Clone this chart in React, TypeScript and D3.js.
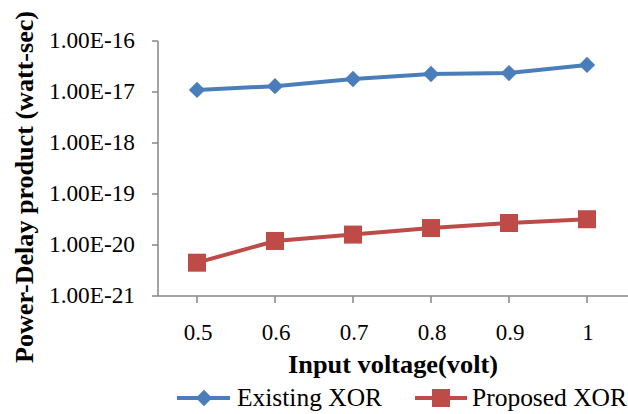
import React from 'react'
import * as d3 from 'd3'

// input voltage categories and the two series (watt-sec)
const voltages = ['0.5', '0.6', '0.7', '0.8', '0.9', '1']
const existingXor = [1.1e-17, 1.3e-17, 1.8e-17, 2.25e-17, 2.35e-17, 3.4e-17]
const proposedXor = [4.5e-21, 1.2e-20, 1.6e-20, 2.15e-20, 2.7e-20, 3.2e-20]
const yTicks = [1e-21, 1e-20, 1e-19, 1e-18, 1e-17, 1e-16]
const seriesNames = ['Existing XOR', 'Proposed XOR']

const W = 628
const H = 414
const left = 158
const right = 626
const top = 41
const bottom = 296
const FONT = 'Liberation Serif, serif'
const BLUE = '#4A7EBB'
const RED = '#BE4B48'
const AXIS = '#868686'

const App = () => {
  const x = d3.scalePoint<string>().domain(voltages).range([left, right]).padding(0.5)
  const y = d3.scaleLog().domain([1e-21, 1e-16]).range([bottom, top])

  const fmt = (v: number) => '1.00E' + Math.round(Math.log10(v))

  const mkLine = d3
    .line<number>()
    .x((_, i) => x(voltages[i]) as number)
    .y((v) => y(v))

  const diamond = d3.symbol().type(d3.symbolDiamond2).size(170)

  return (
    <svg width={W} height={H} style={{ position: 'absolute', left: 0, top: 0 }} fontFamily={FONT}>
      <rect width={W} height={H} fill="#fff" />

      {/* axes */}
      <line x1={left} x2={left} y1={top} y2={bottom} stroke={AXIS} strokeWidth={1.5} />
      <line x1={left} x2={right + 2} y1={bottom} y2={bottom} stroke={AXIS} strokeWidth={1.5} />
      {yTicks.map((t) => (
        <g key={t}>
          <line x1={left - 6} x2={left} y1={y(t)} y2={y(t)} stroke={AXIS} strokeWidth={1.5} />
          <text x={left - 23} y={y(t) + 7} textAnchor="end" fontSize={23} textLength={86} lengthAdjust="spacingAndGlyphs">
            {fmt(t)}
          </text>
        </g>
      ))}
      {voltages.map((v) => (
        <g key={v}>
          <line x1={x(v)} x2={x(v)} y1={bottom} y2={bottom + 7} stroke={AXIS} strokeWidth={1.5} />
          <text x={(x(v) as number) + 1} y={340} textAnchor="middle" fontSize={23}>
            {v}
          </text>
        </g>
      ))}

      {/* titles */}
      <text x={393} y={373} textAnchor="middle" fontSize={26} fontWeight="bold" textLength={210} lengthAdjust="spacingAndGlyphs">
        Input voltage(volt)
      </text>
      <text
        transform={`translate(33,187) rotate(-90)`}
        textAnchor="middle"
        fontSize={26}
        fontWeight="bold"
        textLength={352}
        lengthAdjust="spacingAndGlyphs"
      >
        Power-Delay product (watt-sec)
      </text>

      {/* series */}
      <path d={mkLine(existingXor) ?? ''} fill="none" stroke={BLUE} strokeWidth={4} />
      {existingXor.map((v, i) => (
        <path key={i} d={diamond() ?? ''} transform={`translate(${x(voltages[i])},${y(v)})`} fill={BLUE} />
      ))}
      <path d={mkLine(proposedXor) ?? ''} fill="none" stroke={RED} strokeWidth={4} />
      {proposedXor.map((v, i) => (
        <rect key={i} x={(x(voltages[i]) as number) - 9} y={y(v) - 9} width={18} height={18} fill={RED} />
      ))}

      {/* legend */}
      <line x1={177} x2={230} y1={398} y2={398} stroke={BLUE} strokeWidth={4} />
      <path d={diamond() ?? ''} transform="translate(204,398)" fill={BLUE} />
      <text x={237} y={406} fontSize={25} textLength={145} lengthAdjust="spacingAndGlyphs">
        {seriesNames[0]}
      </text>
      <line x1={415} x2={467} y1={398} y2={398} stroke={RED} strokeWidth={4} />
      <rect x={432} y={389} width={18} height={18} fill={RED} />
      <text x={472} y={406} fontSize={25} textLength={155} lengthAdjust="spacingAndGlyphs">
        {seriesNames[1]}
      </text>
    </svg>
  )
}

export default App
